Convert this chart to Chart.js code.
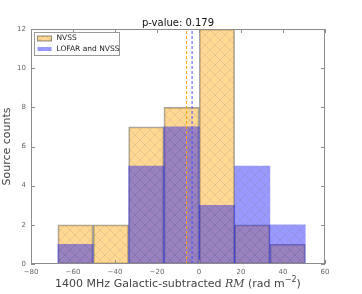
<!DOCTYPE html>
<html>
<head>
<meta charset="utf-8">
<script src="https://cdn.jsdelivr.net/npm/chart.js@4.4.1/dist/chart.umd.min.js"></script>
<style>
  html,body{margin:0;padding:0;background:#fff;}
  #c{display:block;}
</style>
</head>
<body>
<canvas id="c" width="362" height="294"></canvas>
<script>
/* ===== dados ===== */
const binCenters = [-58.8, -41.95, -25.1, -8.3, 8.55, 25.35, 42.2];
const nvssCounts  = [2, 2, 7, 8, 12, 2, 1];
const lofarCounts = [1, 0, 5, 7, 3, 5, 2];
const medianNVSS  = -5.9;
const medianLOFAR = -3.3;
const xTicks = [-80, -60, -40, -20, 0, 20, 40, 60];
const yTicks = [0, 2, 4, 6, 8, 10, 12];
const pValue = '0.179';

/* ===== hachura 'x' ===== */
function hatch(fill){
  const s = 10, cv = document.createElement('canvas');
  cv.width = s; cv.height = s;
  const g = cv.getContext('2d');
  g.fillStyle = fill; g.fillRect(0,0,s,s);
  g.strokeStyle = 'rgba(110,110,110,0.22)'; g.lineWidth = 0.8;
  g.beginPath();
  g.moveTo(0,0); g.lineTo(s,s);
  g.moveTo(s,0); g.lineTo(0,s);
  g.stroke();
  return g.createPattern(cv, 'repeat');
}
const orangeFill = hatch('rgba(255,165,0,0.42)');
const blueFill   = hatch('rgba(0,0,255,0.40)');

const toPts = (ys) => binCenters.map((x,i)=>({x, y: ys[i]}));
const vline = (x) => [{x, y:0}, {x, y:12}];

/* ===== desenho extra: moldura, ticks internos, título, rótulo x, legenda ===== */
const extras = {
  id: 'extras',
  afterDraw(chart){
    const {ctx, chartArea:a, scales:{x, y}} = chart;
    ctx.save();
    ctx.strokeStyle = '#8c8c8c'; ctx.lineWidth = 1;
    ctx.strokeRect(a.left+0.5, a.top+0.5, a.right-a.left-1, a.bottom-a.top-1);
    ctx.beginPath();
    xTicks.forEach(v=>{
      const px = Math.round(x.getPixelForValue(v))+0.5;
      ctx.moveTo(px, a.bottom); ctx.lineTo(px, a.bottom-4);
      ctx.moveTo(px, a.top); ctx.lineTo(px, a.top+4);
    });
    yTicks.forEach(v=>{
      const py = Math.round(y.getPixelForValue(v))+0.5;
      ctx.moveTo(a.left, py); ctx.lineTo(a.left+4, py);
      ctx.moveTo(a.right, py); ctx.lineTo(a.right-4, py);
    });
    ctx.stroke();

    // título
    ctx.fillStyle = '#111';
    ctx.font = '10px "DejaVu Sans"';
    ctx.textAlign = 'center'; ctx.textBaseline = 'middle';
    ctx.fillText('p-value: ' + pValue, (a.left+a.right)/2, 23);

    // rótulo do eixo x com RM em itálico e expoente
    const parts = [
      {t:'1400 MHz Galactic-subtracted ', f:'11px "DejaVu Sans"', dy:0},
      {t:'RM', f:'italic 11px "DejaVu Serif"', dy:0},
      {t:' (rad m', f:'11px "DejaVu Sans"', dy:0},
      {t:'\u22122', f:'8px "DejaVu Sans"', dy:-4},
      {t:')', f:'11px "DejaVu Sans"', dy:0},
    ];
    let w = 0;
    parts.forEach(p=>{ ctx.font = p.f; p.w = ctx.measureText(p.t).width; w += p.w; });
    let cx = (a.left+a.right)/2 - w/2;
    ctx.fillStyle = '#444'; ctx.textAlign = 'left'; ctx.textBaseline = 'middle';
    parts.forEach(p=>{ ctx.font = p.f; ctx.fillText(p.t, cx, 284 + p.dy); cx += p.w; });

    // legenda
    const lx = a.left + 3.5, ly = a.top + 3.5;
    ctx.fillStyle = '#fff'; ctx.fillRect(lx, ly, 85, 23);
    ctx.strokeStyle = '#999'; ctx.lineWidth = 1; ctx.strokeRect(lx, ly, 85, 23);
    ctx.fillStyle = orangeFill; ctx.fillRect(lx+3, ly+3.5, 14, 5);
    ctx.strokeStyle = 'rgba(0,0,0,0.4)'; ctx.lineWidth = 1.1; ctx.strokeRect(lx+3, ly+3.5, 14, 5);
    ctx.fillStyle = blueFill; ctx.fillRect(lx+3, ly+14.5, 14, 4);
    ctx.fillStyle = '#222'; ctx.font = '7.5px "DejaVu Sans"'; ctx.textBaseline = 'middle';
    ctx.fillText('NVSS', lx+22, ly+6);
    ctx.fillText('LOFAR and NVSS', lx+22, ly+16.5);
    ctx.restore();
  }
};

const minus = (v) => String(v).replace('-', '\u2212');

new Chart(document.getElementById('c'), {
  type: 'bar',
  data: {
    datasets: [
      { type:'line', data: vline(medianNVSS), borderColor:'#ffa500', borderWidth:1,
        borderDash:[3,2], pointRadius:0, order:0 },
      { type:'line', data: vline(medianLOFAR), borderColor:'#5050ff', borderWidth:1,
        borderDash:[3,2], pointRadius:0, order:0 },
      { label:'LOFAR and NVSS', data: toPts(lofarCounts), backgroundColor: blueFill,
        borderWidth:0, order:1 },
      { label:'NVSS', data: toPts(nvssCounts), backgroundColor: orangeFill,
        borderColor:'rgba(0,0,0,0.35)', borderWidth:1.1, borderSkipped:false, order:2 },
    ]
  },
  options: {
    responsive: false,
    devicePixelRatio: 1,
    animation: false,
    layout: { padding: { top: 29, right: 37, left: 0, bottom: 0 } },
    datasets: { bar: { grouped:false, barPercentage:1, categoryPercentage:1 } },
    plugins: { legend:{display:false}, tooltip:{enabled:false}, title:{display:false} },
    scales: {
      x: {
        type:'linear', min:-80, max:60, offset:false,
        grid:{display:false, drawTicks:false, tickLength:0}, border:{display:false},
        afterBuildTicks: (s)=>{ s.ticks = xTicks.map(v=>({value:v})); },
        afterFit: (s)=>{ s.height = 30; },
        ticks:{ color:'#666', font:{family:'DejaVu Sans', size:7}, padding:4, maxRotation:0,
                callback: minus }
      },
      y: {
        min:0, max:12,
        grid:{display:false, drawTicks:false, tickLength:0}, border:{display:false},
        afterBuildTicks: (s)=>{ s.ticks = yTicks.map(v=>({value:v})); },
        afterFit: (s)=>{ s.width = 31; },
        ticks:{ color:'#666', font:{family:'DejaVu Sans', size:7}, padding:5 },
        title:{ display:true, text:'Source counts', color:'#444',
                font:{family:'DejaVu Sans', size:11}, padding:{top:1, bottom:0} }
      }
    }
  },
  plugins: [extras]
});
</script>
</body>
</html>
